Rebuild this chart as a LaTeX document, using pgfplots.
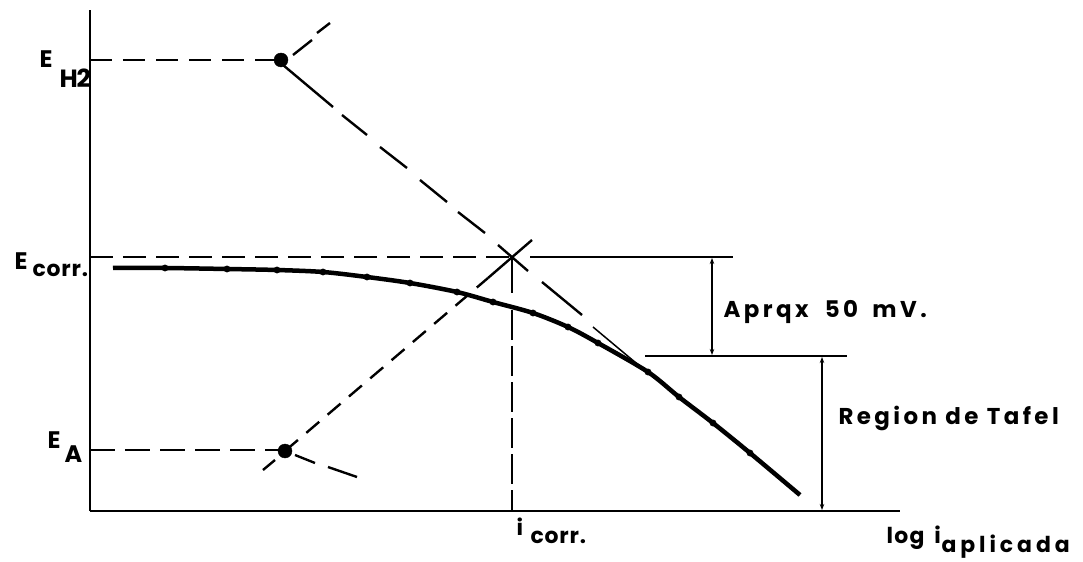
\documentclass[border=0pt]{standalone}
\usepackage{pgfplots}
\pgfplotsset{compat=1.18}
\usepackage{fontspec}
\setmainfont{Poppins}
\usetikzlibrary{arrows.meta}

% lettering used for every label
\newcommand\lett[2]{\fontsize{#1}{#1}\selectfont\bfseries\addfontfeatures{LetterSpace=#2}}

\begin{document}
\begin{tikzpicture}
\begin{axis}[
  scale only axis, width=810bp, height=501bp,
  xmin=0, xmax=810, ymin=0, ymax=501,
  axis lines=left,
  axis line style={-, line width=2.8bp},
  xtick=\empty, ytick=\empty,
  clip=false,
  every node/.style={inner sep=0pt, outer sep=0pt},
  guide/.style={line width=2.4bp, line cap=butt},
  thin guide/.style={line width=1.5bp},
  dim/.style={line width=1.5bp, {Stealth[length=6bp,width=4.5bp]}-{Stealth[length=6bp,width=4.5bp]}},
]
% page frame
\path (axis cs:-90,-46) rectangle (axis cs:993,511);

% potential levels
\addplot[guide, dash pattern=on 22bp off 11bp] coordinates {(0,451) (191,451)};
\addplot[guide, dash pattern=on 23bp off 10bp] coordinates {(0,254) (422,254)};
\addplot[guide, dash pattern=on 25bp off 10bp] coordinates {(0,61) (195,61)};
\addplot[thin guide] coordinates {(440,254) (643,254)};

% cathodic Tafel line from E_H2
\addplot[guide] coordinates {(193,446) (243,404)};
\addplot[guide] coordinates {(252,396) (277,376)};
\addplot[guide] coordinates {(290,364) (317,343)};
\addplot[guide] coordinates {(330,331) (357,309)};
\addplot[guide] coordinates {(368,299) (395,278)};
\addplot[guide] coordinates {(408,266) (438,240)};
\addplot[guide] coordinates {(452,229) (492,196)};
\addplot[thin guide] coordinates {(503,184) (552,143)};
\addplot[guide] coordinates {(203,456) (222,471)};
\addplot[guide] coordinates {(227,478) (240,488)};

% anodic Tafel line from E_A
\addplot[guide, dash pattern=on 17bp off 11bp] coordinates {(195,60) (398,233)};
\addplot[guide] coordinates {(398,233) (442,271)};
\addplot[guide] coordinates {(173,41) (185,51)};
\addplot[guide] coordinates {(205,56) (225,48)};
\addplot[guide] coordinates {(238,44) (267,34)};

% i_corr
\addplot[thin guide] coordinates {(422,254) (422,218)};
\addplot[thin guide, dash pattern=on 30bp off 6bp] coordinates {(422,201) (422,0)};

% equilibrium points
\addplot[only marks, mark=*, mark size=7bp] coordinates {(191,451) (195,60)};

% measured polarization curve
\addplot[line width=4.5bp, smooth, tension=0.5] coordinates {
  (23,243) (75,243) (137,242) (187,241) (233,239) (277,234) (320,228)
  (367,219) (403,209) (443,198) (478,184) (508,168) (558,139) (589,114)
  (623,88) (660,58) (710,16)};
\addplot[only marks, mark=*, mark size=3.2bp] coordinates {
  (75,243) (137,242) (187,241) (233,239) (277,234) (320,228)
  (367,219) (403,209) (443,198) (478,184) (508,168) (558,139) (589,114)
  (623,88) (660,58)};

% dimension lines
\addplot[thin guide] coordinates {(555,155) (757,155)};
\addplot[dim] coordinates {(622,253) (622,156)};
\addplot[dim] coordinates {(732,154) (732,1)};

% labels
\node[anchor=base west] at (axis cs:-54,443) {\lett{24}{0}E};
\node[anchor=base west] at (axis cs:-34,423) {\lett{25}{-6}H\kern-1bp 2};
\node[anchor=base west] at (axis cs:-79,241) {\lett{24}{0}E};
\node[anchor=base west] at (axis cs:-61,234) {\lett{22}{4}corr.};
\node[anchor=base west] at (axis cs:-46,63) {\lett{24}{0}E};
\node[anchor=base west] at (axis cs:-29,49) {\lett{24}{0}A};
\node[anchor=base west] at (axis cs:423,-24) {\lett{22}{0}i};
\node[anchor=base west] at (axis cs:437,-32) {\lett{22}{4}corr.};
\node[anchor=base west] at (axis cs:793,-32) {\lett{22}{6}log\hspace{4bp} i};
\node[anchor=base west] at (axis cs:848,-41) {\lett{22}{18}aplicada};
\node[anchor=base west] at (axis cs:630,193) {\lett{23}{15}Aprqx\hspace{8bp} 50\hspace{6bp} mV.};
\node[anchor=base west] at (axis cs:745,87) {\lett{23}{15}Region de Tafel};
\end{axis}
\end{tikzpicture}
\end{document}
